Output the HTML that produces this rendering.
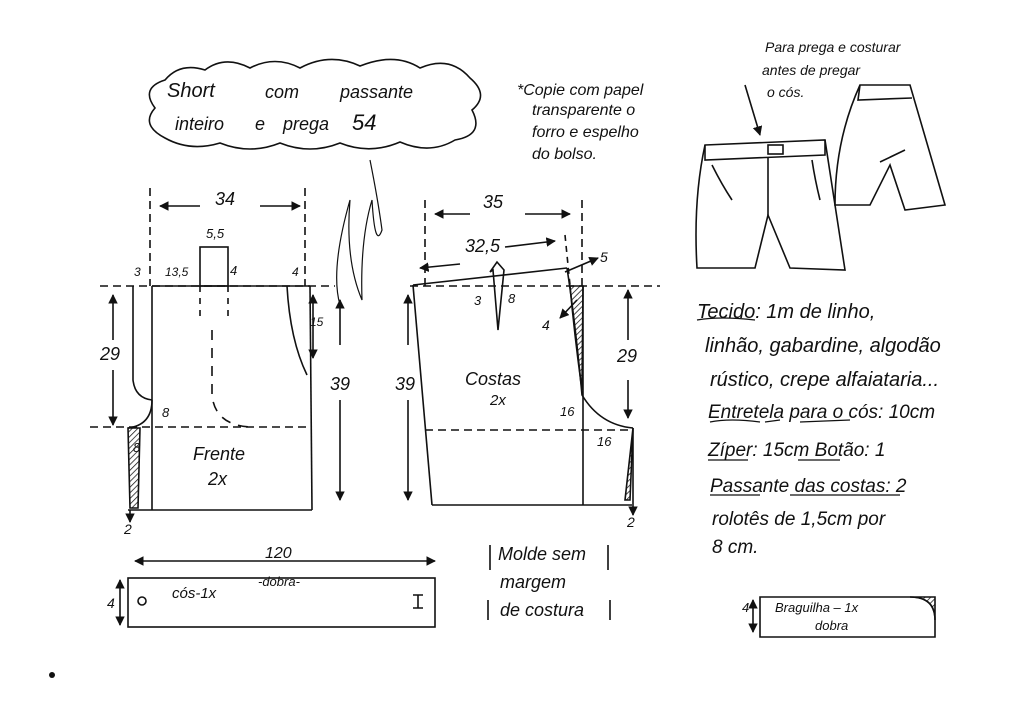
<!DOCTYPE html>
<html><head><meta charset="utf-8"><style>
html,body{margin:0;padding:0;background:#fff;}
svg{display:block;}
text{font-family:"Liberation Sans",sans-serif;fill:#111;font-style:italic;}
</style></head><body>
<svg width="1024" height="725" viewBox="0 0 1024 725" xmlns="http://www.w3.org/2000/svg">
<defs>
<pattern id="h" width="4" height="4" patternUnits="userSpaceOnUse" patternTransform="rotate(45)"><line x1="0" y1="0" x2="0" y2="4" stroke="#111" stroke-width="1.5"/></pattern>
<marker id="a" viewBox="0 0 10 10" refX="9" refY="5" markerWidth="6" markerHeight="6" orient="auto-start-reverse"><path d="M0,0L10,5L0,10z" fill="#111"/></marker>
</defs>
<g stroke="#111" stroke-width="1.6" fill="none">
<!-- cloud -->
<path d="M165,80 Q180,62 205,70 Q225,55 250,68 Q275,55 300,68 Q330,52 360,66 Q395,52 420,68 Q450,55 470,78 Q490,95 472,110 Q485,135 455,140 Q430,155 400,142 Q370,155 340,143 Q310,155 280,143 Q250,155 220,143 Q190,152 165,138 Q140,125 155,108 Q140,88 165,80z"/>
<!-- FRONT -->
<line x1="100" y1="286" x2="335" y2="286" stroke-dasharray="8,5"/>
<line x1="90" y1="427" x2="310" y2="427" stroke-dasharray="8,5"/>
<line x1="150" y1="188" x2="150" y2="286" stroke-dasharray="8,5"/>
<line x1="305" y1="188" x2="305" y2="286" stroke-dasharray="8,5"/>
<line x1="152" y1="286" x2="310" y2="286"/>
<path d="M133,286 L133,380 Q135,398 152,400"/>
<path d="M152,400 Q152,425 128,428"/>
<line x1="152" y1="286" x2="152" y2="510"/>
<line x1="310" y1="286" x2="312" y2="510"/>
<line x1="128" y1="510" x2="312" y2="510"/>
<path d="M128,428 L140,428 L138,508 L130,508z" fill="url(#h)"/>
<path d="M287,286 Q290,340 307,375"/>
<rect x="200" y="247" width="28" height="39"/>
<line x1="200" y1="286" x2="200" y2="320" stroke-dasharray="6,6"/>
<line x1="228" y1="286" x2="228" y2="320" stroke-dasharray="6,6"/>
<path d="M212,330 L212,395 Q215,425 250,427" stroke-dasharray="10,8"/>
<line x1="160" y1="206" x2="200" y2="206" marker-start="url(#a)"/>
<line x1="260" y1="206" x2="300" y2="206" marker-end="url(#a)"/>
<line x1="113" y1="295" x2="113" y2="340" marker-start="url(#a)"/>
<line x1="113" y1="370" x2="113" y2="425" marker-end="url(#a)"/>
<line x1="340" y1="300" x2="340" y2="345" marker-start="url(#a)"/>
<line x1="340" y1="400" x2="340" y2="500" marker-end="url(#a)"/>
<line x1="313" y1="295" x2="313" y2="358" marker-start="url(#a)" marker-end="url(#a)"/>
<line x1="130" y1="510" x2="130" y2="522" marker-end="url(#a)"/>
<!-- BACK -->
<line x1="410" y1="286" x2="660" y2="286" stroke-dasharray="8,5"/>
<line x1="425" y1="430" x2="630" y2="430" stroke-dasharray="8,5"/>
<line x1="425" y1="200" x2="425" y2="286" stroke-dasharray="8,5"/>
<line x1="582" y1="200" x2="582" y2="286" stroke-dasharray="8,5"/>
<line x1="565" y1="235" x2="570" y2="285" stroke-dasharray="6,5"/>
<path d="M413,285 L567,268"/>
<line x1="413" y1="285" x2="432" y2="505"/>
<line x1="432" y1="505" x2="632" y2="505"/>
<line x1="583" y1="286" x2="583" y2="505"/>
<path d="M567,268 Q575,320 582,395 Q600,425 633,428"/>
<path d="M570,286 L583,286 L582,390 Q575,340 570,286z" fill="url(#h)"/>
<path d="M633,428 L630,500 L625,500z" fill="url(#h)"/>
<line x1="633" y1="428" x2="633" y2="505"/>
<path d="M490,272 L497,262 L504,270 L498,330 L493,270z"/>
<line x1="435" y1="214" x2="470" y2="214" marker-start="url(#a)"/>
<line x1="525" y1="214" x2="570" y2="214" marker-end="url(#a)"/>
<line x1="420" y1="268" x2="460" y2="264" marker-start="url(#a)"/>
<line x1="505" y1="247" x2="555" y2="241" marker-end="url(#a)"/>
<line x1="565" y1="272" x2="598" y2="258" marker-end="url(#a)"/>
<line x1="577" y1="300" x2="560" y2="318" marker-end="url(#a)"/>
<line x1="408" y1="295" x2="408" y2="345" marker-start="url(#a)"/>
<line x1="408" y1="400" x2="408" y2="500" marker-end="url(#a)"/>
<line x1="628" y1="290" x2="628" y2="340" marker-start="url(#a)"/>
<line x1="628" y1="380" x2="628" y2="418" marker-end="url(#a)"/>
<line x1="633" y1="505" x2="633" y2="515" marker-end="url(#a)"/>
<!-- signature -->
<path d="M340,305 Q330,270 350,200 Q345,260 362,300 Q360,240 372,200 Q375,250 382,230 Q378,200 370,160" stroke-width="1.2"/>
<!-- waistband -->
<rect x="128" y="578" width="307" height="49"/>
<line x1="135" y1="561" x2="435" y2="561" marker-start="url(#a)" marker-end="url(#a)"/>
<line x1="120" y1="580" x2="120" y2="625" marker-start="url(#a)" marker-end="url(#a)"/>
<circle cx="142" cy="601" r="4"/>
<path d="M418,595 L418,608 M413,595 L423,595 M413,608 L423,608"/>
<!-- molde box -->
<path d="M490,545 L490,570 M608,545 L608,570 M488,600 L488,620 M610,600 L610,620"/>
<!-- braguilha -->
<path d="M760,597 L910,597 Q935,597 935,620 L935,637 L760,637z"/>
<path d="M910,597 Q935,597 935,620 L935,597z" fill="url(#h)"/>
<line x1="753" y1="600" x2="753" y2="632" marker-start="url(#a)" marker-end="url(#a)"/>
<!-- shorts drawings -->
<path d="M705,145 L825,140 L845,270 L790,268 L768,215 L755,268 L697,268 Q693,200 705,145z"/>
<path d="M705,145 L705,160 L825,155 L825,140"/>
<rect x="768" y="145" width="15" height="9"/>
<line x1="768" y1="158" x2="768" y2="215"/>
<path d="M712,165 Q722,185 732,200 M812,160 Q815,180 820,200"/>
<path d="M745,85 L760,135" marker-end="url(#a)"/>
<path d="M860,85 L910,85 L945,205 L905,210 L890,165 L870,205 L835,205 Q835,140 860,85z"/>
<path d="M860,85 L858,100 L912,98"/>
<line x1="880" y1="162" x2="905" y2="150"/>
<!-- underlines -->
<path d="M697,320 Q720,316 755,320 M710,422 Q730,418 760,422 M765,422 L780,420 M800,422 L850,420 M708,460 L748,460 M798,460 L840,460 M710,495 L760,495 M790,495 L900,495" stroke-width="1.2"/>
</g>
<g font-size="18">
<text x="167" y="97" font-size="20">Short</text>
<text x="265" y="98">com</text>
<text x="340" y="98">passante</text>
<text x="175" y="130">inteiro</text>
<text x="255" y="130">e</text>
<text x="283" y="130">prega</text>
<text x="352" y="130" font-size="22">54</text>
<text x="517" y="95" font-size="16">*Copie com papel</text>
<text x="532" y="115" font-size="16">transparente o</text>
<text x="532" y="137" font-size="16">forro e espelho</text>
<text x="532" y="159" font-size="16">do bolso.</text>
<text x="765" y="52" font-size="14">Para prega e costurar</text>
<text x="762" y="75" font-size="14">antes de pregar</text>
<text x="767" y="97" font-size="14">o cós.</text>
<text x="215" y="205">34</text>
<text x="206" y="238" font-size="13">5,5</text>
<text x="230" y="275" font-size="13">4</text>
<text x="134" y="276" font-size="12">3</text>
<text x="165" y="276" font-size="12">13,5</text>
<text x="292" y="276" font-size="12">4</text>
<text x="310" y="326" font-size="12">15</text>
<text x="100" y="360">29</text>
<text x="330" y="390">39</text>
<text x="162" y="417" font-size="13">8</text>
<text x="133" y="452" font-size="13">8</text>
<text x="193" y="460">Frente</text>
<text x="208" y="485">2x</text>
<text x="124" y="534" font-size="14">2</text>
<text x="483" y="208">35</text>
<text x="465" y="252">32,5</text>
<text x="600" y="262" font-size="14">5</text>
<text x="474" y="305" font-size="13">3</text>
<text x="508" y="303" font-size="13">8</text>
<text x="542" y="330" font-size="14">4</text>
<text x="395" y="390">39</text>
<text x="465" y="385">Costas</text>
<text x="490" y="405" font-size="15">2x</text>
<text x="617" y="362">29</text>
<text x="560" y="416" font-size="13">16</text>
<text x="597" y="446" font-size="13">16</text>
<text x="627" y="527" font-size="14">2</text>
<text x="265" y="558" font-size="16">120</text>
<text x="107" y="608" font-size="14">4</text>
<text x="172" y="598" font-size="15">cós-1x</text>
<text x="258" y="586" font-size="13">-dobra-</text>
<text x="498" y="560">Molde sem</text>
<text x="500" y="588">margem</text>
<text x="500" y="616">de costura</text>
<text x="697" y="318" font-size="20">Tecido: 1m  de linho,</text>
<text x="705" y="352" font-size="20">linhão, gabardine, algodão</text>
<text x="710" y="386" font-size="20">rústico, crepe alfaiataria...</text>
<text x="708" y="418" font-size="19">Entretela para o cós: 10cm</text>
<text x="708" y="456" font-size="19">Zíper: 15cm    Botão: 1</text>
<text x="710" y="492" font-size="19">Passante das costas: 2</text>
<text x="712" y="525" font-size="19">rolotês de 1,5cm por</text>
<text x="712" y="553" font-size="19">8 cm.</text>
<text x="742" y="612" font-size="13">4</text>
<text x="775" y="612" font-size="13">Braguilha – 1x</text>
<text x="815" y="630" font-size="13">dobra</text>
</g>
<circle cx="52" cy="675" r="3" fill="#111"/>
</svg>
</body></html>
